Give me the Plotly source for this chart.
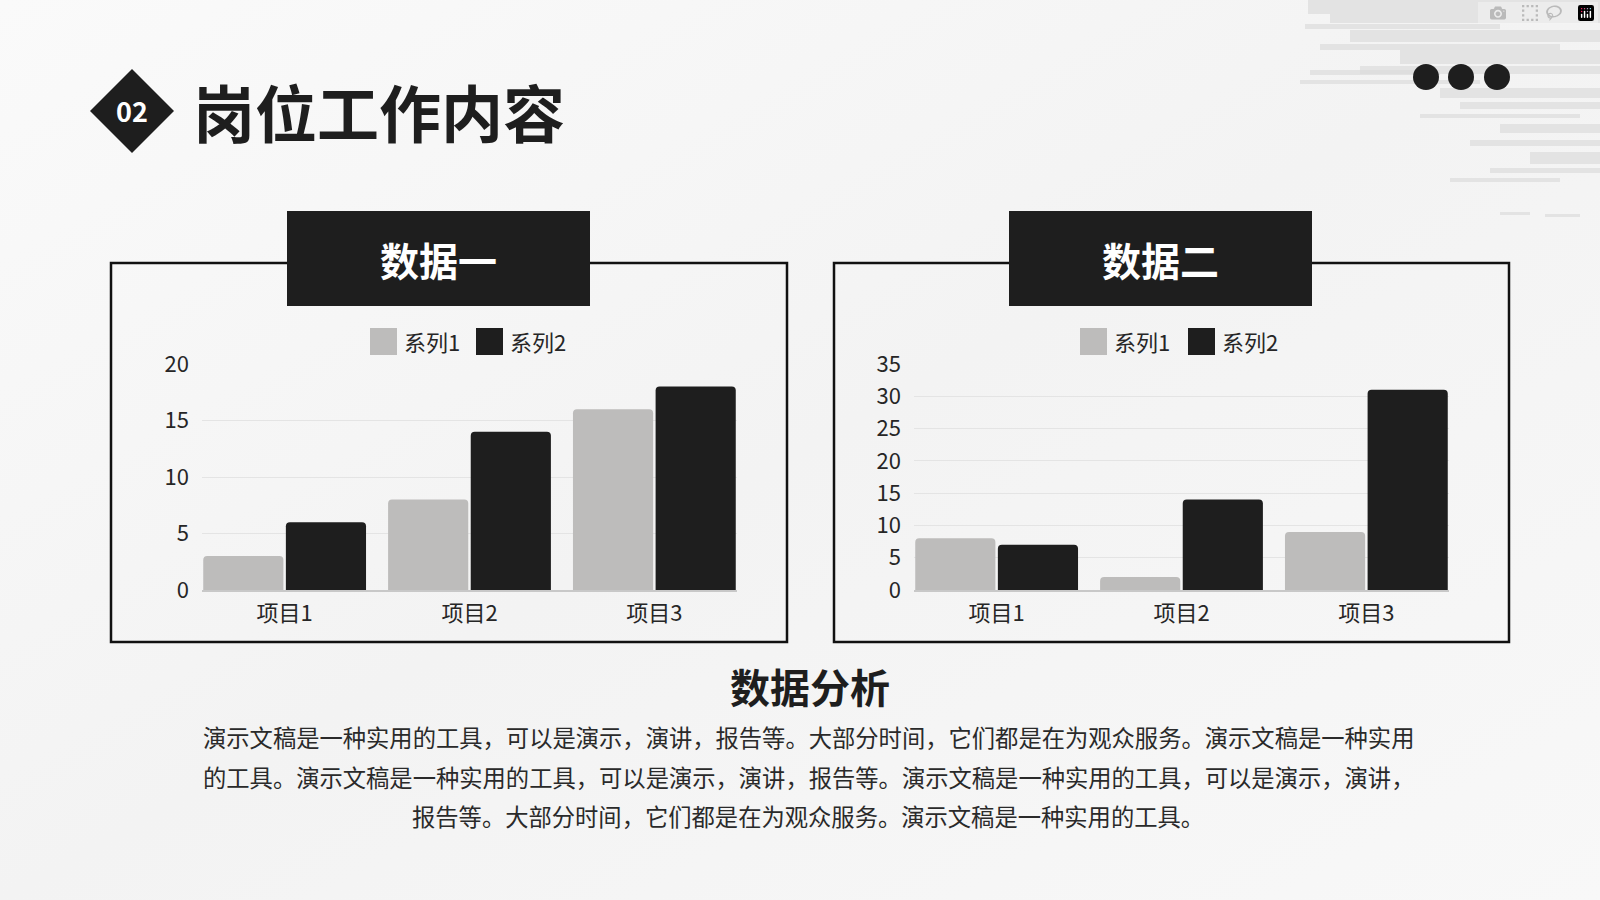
import base64
import plotly.graph_objects as go

W, H = 1600, 900

# data
categories = ["项目1", "项目2", "项目3"]
series_names = ["系列1", "系列2"]
chart1_s1 = [3, 8, 16]
chart1_s2 = [6, 14, 18]
chart2_s1 = [8, 2, 9]
chart2_s2 = [7, 14, 31]
chart1_ticks = [0, 5, 10, 15, 20]
chart2_ticks = [0, 5, 10, 15, 20, 25, 30, 35]

chart_titles = ["数据一", "数据二"]
page_title = "岗位工作内容"
section_no = "02"
analysis_title = "数据分析"
analysis_lines = [
    "演示文稿是一种实用的工具，可以是演示，演讲，报告等。大部分时间，它们都是在为观众服务。演示文稿是一种实用",
    "的工具。演示文稿是一种实用的工具，可以是演示，演讲，报告等。演示文稿是一种实用的工具，可以是演示，演讲，",
    "报告等。大部分时间，它们都是在为观众服务。演示文稿是一种实用的工具。",
]

LIGHT = "#bdbcbb"
DARK = "#1e1e1e"
FONT = "Noto Sans CJK SC"


def px(x):
    return x / W


def py(y):
    return 1 - y / H


# background: soft gradient + brush streaks top right
streaks = [
    (1308, 0, 1600, 14), (1330, 14, 1600, 9), (1305, 24, 1500, 5), (1350, 30, 1600, 12),
    (1320, 44, 1560, 6), (1400, 50, 1600, 14), (1310, 70, 1440, 5), (1360, 66, 1600, 8),
    (1300, 80, 1480, 4), (1440, 88, 1600, 10), (1460, 102, 1600, 7), (1420, 114, 1580, 4),
    (1500, 124, 1600, 9), (1470, 140, 1600, 6), (1530, 152, 1600, 12), (1490, 168, 1600, 5),
    (1450, 178, 1560, 4), (1500, 212, 1530, 3), (1545, 214, 1580, 3),
]
svg_rects = "".join(
    f'<rect x="{x0}" y="{y0}" width="{x1 - x0}" height="{h}" fill="#dcdcdc" opacity="0.7"/>'
    for x0, y0, x1, h in streaks
)
svg = (
    '<svg xmlns="http://www.w3.org/2000/svg" width="1600" height="900" viewBox="0 0 1600 900">'
    '<defs><linearGradient id="g" x1="0" y1="0" x2="1" y2="1">'
    '<stop offset="0" stop-color="#fafafa"/><stop offset="0.5" stop-color="#f3f3f3"/>'
    '<stop offset="1" stop-color="#f8f8f8"/></linearGradient></defs>'
    '<rect width="1600" height="900" fill="url(#g)"/>' + svg_rects + '</svg>'
)
bg_src = "data:image/svg+xml;base64," + base64.b64encode(svg.encode()).decode()

fig = go.Figure()

charts = [
    ("x", "y", chart1_s1, chart1_s2),
    ("x2", "y2", chart2_s1, chart2_s2),
]
for xa, ya, s1, s2 in charts:
    for name, vals, color in zip(series_names, [s1, s2], [LIGHT, DARK]):
        fig.add_trace(go.Bar(
            x=categories, y=vals, name=name, marker_color=color,
            marker_cornerradius=4, marker_line_width=0,
            xaxis=xa, yaxis=ya, showlegend=False, hoverinfo="x+y+name",
        ))

gap = 0.106
axis_x = dict(
    range=[-0.5 + gap / 2, 2.5 - gap / 2], showgrid=False, showline=True,
    linecolor="#c8c8c8", linewidth=1.5, ticks="", ticklabelstandoff=3,
    tickfont=dict(size=22, color="#262626", family=FONT), fixedrange=True,
    automargin=False,
)
axis_y = dict(
    showgrid=True, gridcolor="#e4e4e4", gridwidth=1, zeroline=False, showline=False,
    ticks="", ticklabelstandoff=12, tickfont=dict(size=22, color="#262626", family=FONT),
    fixedrange=True, automargin=False,
)

fig.update_layout(
    width=W, height=H, margin=dict(l=0, r=0, t=0, b=0, pad=0, autoexpand=False),
    paper_bgcolor="#f5f5f5", plot_bgcolor="rgba(0,0,0,0)",
    barmode="group", bargap=gap, bargroupgap=0.03,
    font=dict(family=FONT, color="#222222"),
    xaxis=dict(axis_x, domain=[px(202), px(737)], anchor="y"),
    yaxis=dict(axis_y, domain=[py(590), py(364)], anchor="x", range=[0, 20], tickvals=chart1_ticks),
    xaxis2=dict(axis_x, domain=[px(914), px(1449)], anchor="y2"),
    yaxis2=dict(axis_y, domain=[py(590), py(364)], anchor="x2", range=[0, 35], tickvals=chart2_ticks),
)

fig.add_layout_image(dict(
    source=bg_src, xref="paper", yref="paper", x=0, y=1, sizex=1, sizey=1,
    xanchor="left", yanchor="top", sizing="stretch", layer="below",
))

shapes = []
annotations = []


def rect(x0, y0, x1, y1, **kw):
    shapes.append(dict(type="rect", xref="paper", yref="paper",
                       x0=px(x0), x1=px(x1), y0=py(y0), y1=py(y1), **kw))


def text(s, x, y, size, color="#222222", xanchor="center", bold=False):
    annotations.append(dict(
        text=f"<b>{s}</b>" if bold else s, x=px(x), y=py(y), xref="paper", yref="paper",
        xanchor=xanchor, yanchor="middle", showarrow=False,
        font=dict(size=size, color=color, family=FONT),
    ))


# header
cx, cy, r = 132, 111, 42
shapes.append(dict(
    type="path", xref="paper", yref="paper", fillcolor=DARK, line_width=0,
    path=f"M {px(cx)} {py(cy - r)} L {px(cx + r)} {py(cy)} L {px(cx)} {py(cy + r)} L {px(cx - r)} {py(cy)} Z",
))
text(section_no, cx, cy, 27, color="white", bold=True)
text(page_title, 191, 111, 62, color=DARK, xanchor="left", bold=True)

# three dots
for dx in [1426, 1461, 1497]:
    shapes.append(dict(type="circle", xref="paper", yref="paper", fillcolor=DARK, line_width=0,
                       x0=px(dx - 13), x1=px(dx + 13), y0=py(77 - 13), y1=py(77 + 13)))

# chart frames and title boxes
frames = [(111, 787, 287, 590), (834, 1509, 1009, 1312)]
for (fx0, fx1, bx0, bx1), title in zip(frames, chart_titles):
    rect(fx0, 263, fx1, 642, line=dict(color="#111111", width=2.5), fillcolor="rgba(0,0,0,0)")
    rect(bx0, 211, bx1, 306, line=dict(width=0), fillcolor=DARK)
    text(title, (bx0 + bx1) / 2, 259, 39, color="white", bold=True)

# legends
legend_pos = [(370, 476), (1080, 1188)]
for lx in legend_pos:
    for x0, name, color in zip(lx, series_names, [LIGHT, DARK]):
        rect(x0, 328, x0 + 27, 355, line=dict(width=0), fillcolor=color)
        text(name, x0 + 32, 341, 22, color="#262626", xanchor="left")

# analysis text
text(analysis_title, 810, 686, 40, color=DARK, bold=True)
for i, line in enumerate(analysis_lines):
    text(line, 808, 737 + i * 39.5, 23.3, color="#2a2a2a")

fig.update_layout(shapes=shapes, annotations=annotations)

pin = (
    "document.body.style.margin='0';document.body.style.overflow='hidden';"
    "var gd=document.getElementById('{plot_id}');"
    "gd.style.position='fixed';gd.style.top='0';gd.style.left='0';"
)
fig.write_html("out.html", post_script=pin)
